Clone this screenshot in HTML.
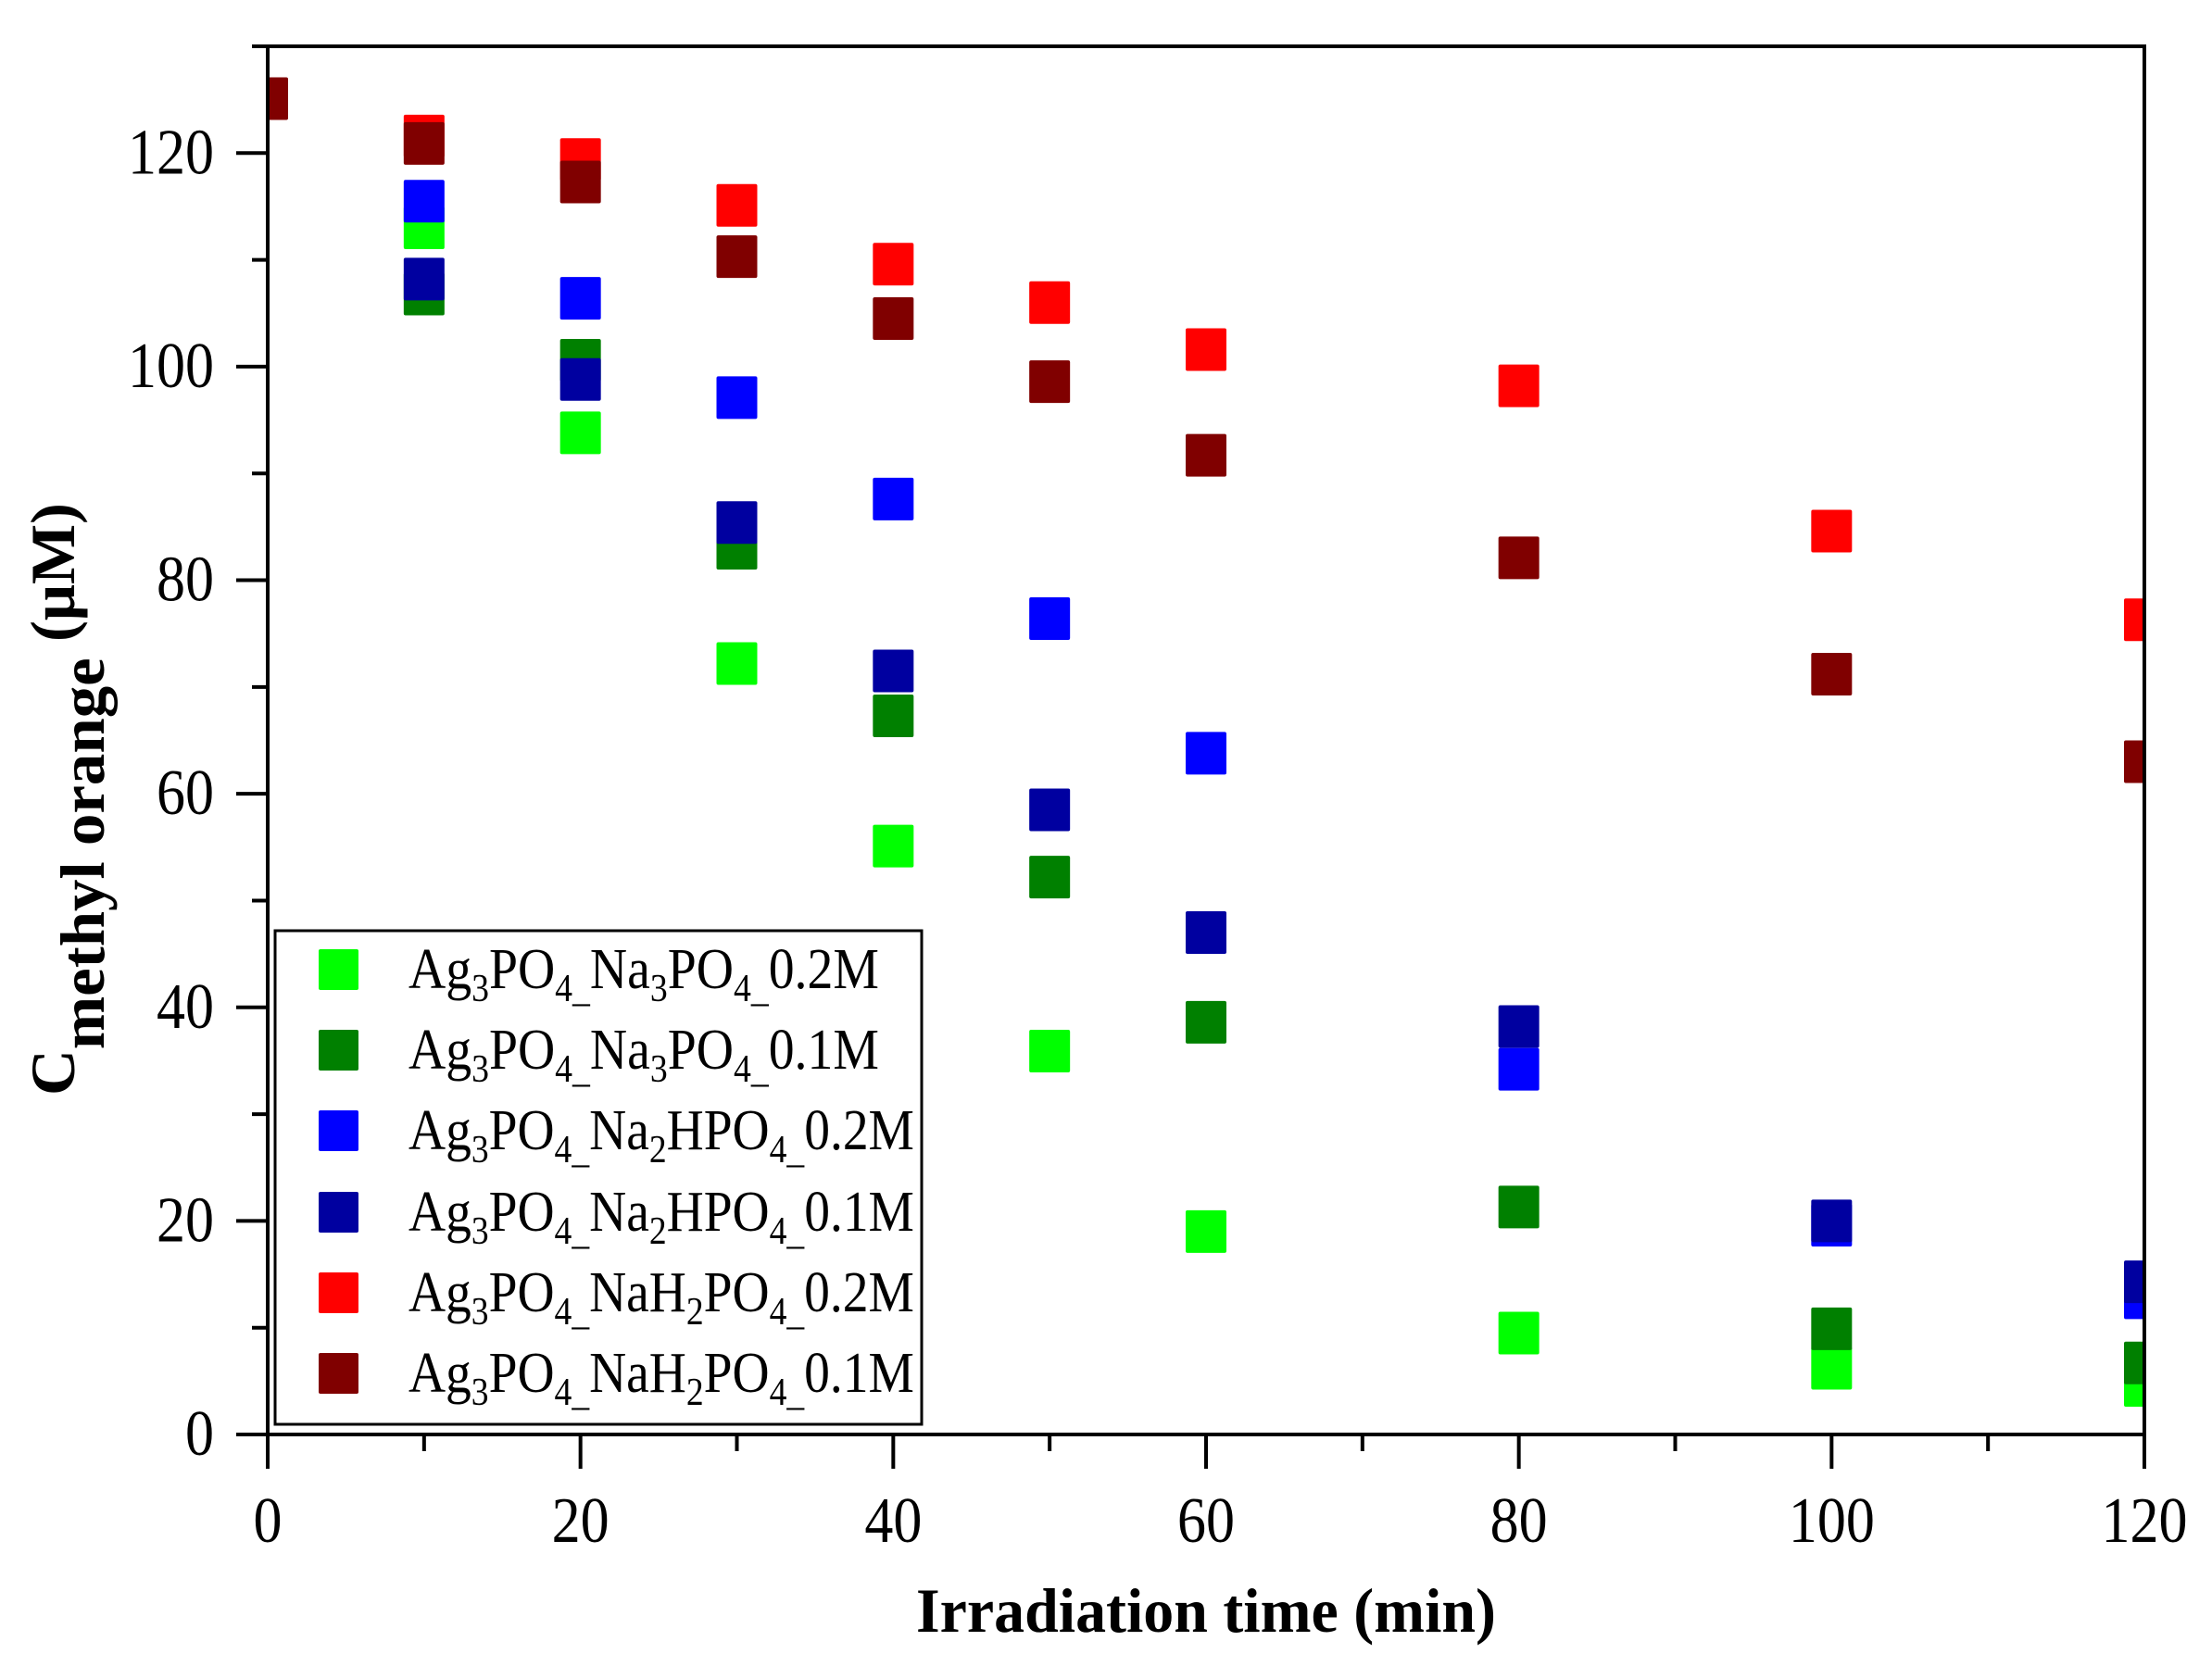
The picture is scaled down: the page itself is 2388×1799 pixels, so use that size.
<!DOCTYPE html>
<html><head><meta charset="utf-8"><style>html,body{margin:0;padding:0;background:#fff}svg{display:block}</style></head>
<body>
<svg id="root" width="2388" height="1799" viewBox="0 0 2388 1799" xmlns="http://www.w3.org/2000/svg" font-family="'Liberation Serif', serif">
<defs><clipPath id="pc"><rect x="289" y="50" width="2026" height="1499"/></clipPath></defs>
<rect width="2388" height="1799" fill="#fff"/>
<g id="pts" clip-path="url(#pc)"></g>
<g stroke="#000" stroke-width="4" fill="none">
<line x1="289" y1="50" x2="2315" y2="50"/>
<line x1="2315" y1="48" x2="2315" y2="1551"/>
<line x1="289" y1="48" x2="289" y2="1551"/>
<line x1="272" y1="1549" x2="2317" y2="1549"/>
</g>
<g id="ticks" stroke="#000" stroke-width="4"></g>
<g id="labels" font-size="70" fill="#000"></g>
<text x="1302" y="1762" font-size="68" font-weight="bold" text-anchor="middle" textLength="626" lengthAdjust="spacingAndGlyphs">Irradiation time (min)</text>
<text transform="translate(80,1183) rotate(-90)" font-size="68" font-weight="bold" textLength="640" lengthAdjust="spacingAndGlyphs">C<tspan dy="32">methyl orange</tspan><tspan dy="-32"> (μM)</tspan></text>
<rect x="297" y="1005" width="698" height="533" fill="#fff" stroke="#000" stroke-width="3"/>
<g font-size="62" fill="#000">
<rect x="344" y="1025" width="43" height="44" rx="2" fill="#00FF00"/>
<rect x="344" y="1112" width="43" height="44" rx="2" fill="#008000"/>
<rect x="344" y="1199" width="43" height="44" rx="2" fill="#0000FF"/>
<rect x="344" y="1287" width="43" height="44" rx="2" fill="#0000A0"/>
<rect x="344" y="1374" width="43" height="44" rx="2" fill="#FF0000"/>
<rect x="344" y="1461" width="43" height="44" rx="2" fill="#800000"/>
<text class="lt" data-w="508" x="441" y="1067">Ag<tspan font-size="42" dy="14">3</tspan><tspan dy="-14">PO</tspan><tspan font-size="42" dy="14">4_</tspan><tspan dy="-14">Na</tspan><tspan font-size="42" dy="14">3</tspan><tspan dy="-14">PO</tspan><tspan font-size="42" dy="14">4_</tspan><tspan dy="-14">0.2M</tspan></text>
<text class="lt" data-w="508" x="441" y="1154">Ag<tspan font-size="42" dy="14">3</tspan><tspan dy="-14">PO</tspan><tspan font-size="42" dy="14">4_</tspan><tspan dy="-14">Na</tspan><tspan font-size="42" dy="14">3</tspan><tspan dy="-14">PO</tspan><tspan font-size="42" dy="14">4_</tspan><tspan dy="-14">0.1M</tspan></text>
<text class="lt" data-w="546" x="441" y="1241">Ag<tspan font-size="42" dy="14">3</tspan><tspan dy="-14">PO</tspan><tspan font-size="42" dy="14">4_</tspan><tspan dy="-14">Na</tspan><tspan font-size="42" dy="14">2</tspan><tspan dy="-14">HPO</tspan><tspan font-size="42" dy="14">4_</tspan><tspan dy="-14">0.2M</tspan></text>
<text class="lt" data-w="546" x="441" y="1329">Ag<tspan font-size="42" dy="14">3</tspan><tspan dy="-14">PO</tspan><tspan font-size="42" dy="14">4_</tspan><tspan dy="-14">Na</tspan><tspan font-size="42" dy="14">2</tspan><tspan dy="-14">HPO</tspan><tspan font-size="42" dy="14">4_</tspan><tspan dy="-14">0.1M</tspan></text>
<text class="lt" data-w="546" x="441" y="1416">Ag<tspan font-size="42" dy="14">3</tspan><tspan dy="-14">PO</tspan><tspan font-size="42" dy="14">4_</tspan><tspan dy="-14">NaH</tspan><tspan font-size="42" dy="14">2</tspan><tspan dy="-14">PO</tspan><tspan font-size="42" dy="14">4_</tspan><tspan dy="-14">0.2M</tspan></text>
<text class="lt" data-w="546" x="441" y="1503">Ag<tspan font-size="42" dy="14">3</tspan><tspan dy="-14">PO</tspan><tspan font-size="42" dy="14">4_</tspan><tspan dy="-14">NaH</tspan><tspan font-size="42" dy="14">2</tspan><tspan dy="-14">PO</tspan><tspan font-size="42" dy="14">4_</tspan><tspan dy="-14">0.1M</tspan></text>
</g>
<script>
var X=function(t){return 289+t*2026/120},Y=function(v){return 1549-v*1499/130};
var ns="http://www.w3.org/2000/svg";
var ser=[
["#00FF00",[[10,113],[20,93.8],[30,72.2],[40,55.1],[50,35.9],[60,19.0],[80,9.5],[100,6.2],[120,4.6]]],
["#008000",[[10,106.8],[20,100.6],[30,83],[40,67.3],[50,52.2],[60,38.6],[80,21.3],[100,9.9],[120,6.7]]],
["#0000FF",[[10,115.5],[20,106.4],[30,97.1],[40,87.6],[50,76.4],[60,63.8],[80,34.2],[100,19.6],[120,12.8]]],
["#0000A0",[[10,108.2],[20,98.8],[30,85.4],[40,71.5],[50,58.5],[60,47.0],[80,38.2],[100,20],[120,14.3]]],
["#FF0000",[[10,121.6],[20,119.4],[30,115.1],[40,109.6],[50,106],[60,101.6],[80,98.2],[100,84.6],[120,76.3]]],
["#800000",[[0,125.1],[10,120.9],[20,117.3],[30,110.3],[40,104.5],[50,98.6],[60,91.7],[80,82.1],[100,71.2],[120,63]]]];
var g=document.getElementById("pts");
ser.forEach(function(s){s[1].forEach(function(p){var r=document.createElementNS(ns,"rect");
r.setAttribute("x",X(p[0])-22);r.setAttribute("y",Y(p[1])-23);r.setAttribute("width",44);r.setAttribute("height",46);r.setAttribute("rx",2);r.setAttribute("fill",s[0]);g.appendChild(r);});});
var tk=document.getElementById("ticks"),lb=document.getElementById("labels");
function ln(a,b,c,d){var l=document.createElementNS(ns,"line");l.setAttribute("x1",a);l.setAttribute("y1",b);l.setAttribute("x2",c);l.setAttribute("y2",d);tk.appendChild(l);}
function tx(x,y,s,a){var t=document.createElementNS(ns,"text");t.setAttribute("x",x);t.setAttribute("y",y);t.setAttribute("text-anchor",a);t.setAttribute("textLength",String(s).length*31);t.setAttribute("lengthAdjust","spacingAndGlyphs");t.textContent=s;lb.appendChild(t);}
for(var t=0;t<=120;t+=10){var maj=t%20==0;ln(X(t),1549,X(t),1549+(maj?37:18));if(maj)tx(X(t),1665,t,"middle");}
for(var v=0;v<=130;v+=10){var maj=v%20==0;ln(289,Y(v),289-(maj?34:17),Y(v));if(maj)tx(231,Y(v)+22,v,"end");}
document.querySelectorAll(".lt").forEach(function(e){try{var w=e.getBBox().width;var tw=+e.getAttribute("data-w");var s=tw/w;e.setAttribute("transform","translate(441,0) scale("+s+",1) translate(-441,0)");}catch(err){}});
</script>
</svg>
</body></html>
